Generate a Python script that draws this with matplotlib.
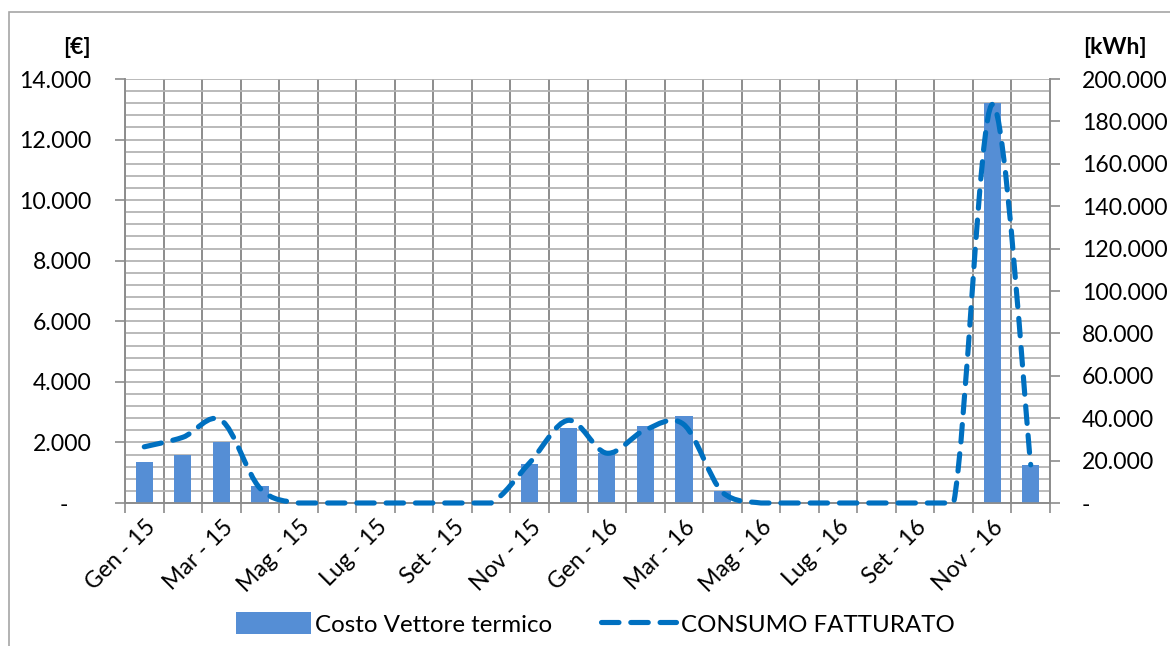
import numpy as np
import matplotlib
matplotlib.use("Agg")
import matplotlib.pyplot as plt
from matplotlib.path import Path
from matplotlib.patches import PathPatch, Patch, Rectangle
from matplotlib.lines import Line2D
from matplotlib.ticker import FuncFormatter, MultipleLocator
from matplotlib.transforms import ScaledTranslation

# monthly data, Jan 2015 - Dec 2016
months = ["Gen - 15", "Feb - 15", "Mar - 15", "Apr - 15", "Mag - 15", "Giu - 15",
          "Lug - 15", "Ago - 15", "Set - 15", "Ott - 15", "Nov - 15", "Dic - 15",
          "Gen - 16", "Feb - 16", "Mar - 16", "Apr - 16", "Mag - 16", "Giu - 16",
          "Lug - 16", "Ago - 16", "Set - 16", "Ott - 16", "Nov - 16", "Dic - 16"]
costo_eur = [1370, 1600, 2000, 560, 0, 0, 0, 0, 0, 0, 1300, 2480,
             1650, 2550, 2880, 380, 0, 0, 0, 0, 0, 0, 13200, 1250]
consumo_kwh = [26500, 31000, 39000, 7000, 0, 0, 0, 0, 0, 0, 19000, 39000,
               23500, 34500, 37000, 5000, 0, 0, 0, 0, 0, 0, 188000, 18000]

BAR_COLOR = "#558ed5"
LINE_COLOR = "#0070c0"
GRID_H = "#b4b4b4"
GRID_V = "#8c8c8c"
FONT = ["Lato", "DejaVu Sans"]
FS = 16.6

plt.rcParams["font.family"] = FONT


def it_thousands(v, pos=None):
    if abs(v) < 1e-9:
        return "-"
    return f"{v:,.0f}".replace(",", ".")


def left_fmt(v, pos=None):
    s = it_thousands(v)
    return "-    " if s == "-" else s


def excel_smooth_path(ax, xs, ys):
    # Bezier control points computed in screen space, with the
    # control offset capped at half the segment length and kept
    # above the bottom of the axis
    pts = ax.transData.transform(np.column_stack([xs, ys]))
    floor = ax.transAxes.transform((0, 0))[1]
    n = len(pts)
    verts = [pts[0]]
    codes = [Path.MOVETO]
    for i in range(n - 1):
        p0 = pts[i - 1] if i > 0 else pts[i]
        p1 = pts[i]
        p2 = pts[i + 1]
        p3 = pts[i + 2] if i + 2 < n else pts[i + 1]
        d12 = np.hypot(*(p2 - p1))
        d02 = np.hypot(*(p2 - p0))
        d13 = np.hypot(*(p3 - p1))
        f0 = 1 / 6
        f1 = 1 / 6
        if d02 / 6 >= d12 / 2 and d02 > 0:
            f0 = d12 / d02 / 2
        if d13 / 6 >= d12 / 2 and d13 > 0:
            f1 = d12 / d13 / 2
        c1 = p1 + (p2 - p0) * f0
        c2 = p2 - (p3 - p1) * f1
        c1[1] = max(c1[1], floor)
        c2[1] = max(c2[1], floor)
        verts += [c1, c2, p2]
        codes += [Path.CURVE4] * 3
    data_verts = ax.transData.inverted().transform(np.array(verts))
    return Path(data_verts, codes)


def main():
    fig = plt.figure(figsize=(11.7, 6.46), dpi=100)
    W, H = 1170, 646
    x0, x1, yb, yt = 125, 1050, 503, 79
    ax = fig.add_axes([x0 / W, 1 - yb / H, (x1 - x0) / W, (yb - yt) / H])
    ax2 = ax.twinx()

    x = np.arange(len(months))
    n = len(months)

    # outer chart frame
    fig.patches.append(Rectangle((9 / W, -0.1), 1.2, 1 - 12 / H + 0.1,
                                 transform=fig.transFigure, fill=False,
                                 edgecolor="#a6a6a6", linewidth=1.2))

    # bars on the left axis
    ax.bar(x, costo_eur, width=0.45, color=BAR_COLOR, zorder=3)
    ax.set_xlim(-0.5, n - 0.5)
    ax.set_ylim(0, 14000)
    ax.yaxis.set_major_locator(MultipleLocator(2000))
    ax.yaxis.set_minor_locator(MultipleLocator(400))
    ax.yaxis.set_major_formatter(FuncFormatter(left_fmt))
    ax.grid(True, axis="y", which="both", color=GRID_H, linewidth=1.3, zorder=0)
    ax.set_axisbelow(True)

    # category boundaries carry the ticks and vertical grid, centres carry labels
    ax.set_xticks(np.arange(-0.5, n, 1.0))
    ax.set_xticklabels([])
    ax.set_xticks(x[::2], minor=True)
    ax.set_xticklabels(months[::2], minor=True, rotation=45, ha="right",
                       va="center", rotation_mode="anchor", fontsize=FS)
    ax.grid(True, axis="x", which="major", color=GRID_V, linewidth=1.4, zorder=0)
    ax.tick_params(axis="x", which="major", length=7, color=GRID_V, width=1.2)
    ax.tick_params(axis="x", which="minor", length=0, pad=15)
    for lbl in ax.get_xticklabels(minor=True):
        lbl.set_transform(lbl.get_transform() +
                          ScaledTranslation(8 / 100, 0, fig.dpi_scale_trans))

    ax.tick_params(axis="y", which="major", length=7, color=GRID_V, width=1.2,
                   labelsize=FS, pad=17)
    ax.tick_params(axis="y", which="minor", length=0)

    # kWh on the right axis
    ax2.set_ylim(0, 200000)
    ax2.yaxis.set_major_locator(MultipleLocator(20000))
    ax2.yaxis.set_major_formatter(FuncFormatter(it_thousands))
    ax2.tick_params(axis="y", length=7, color=GRID_V, width=1.2,
                    labelsize=FS, pad=16)

    for a in (ax, ax2):
        a.spines["top"].set_visible(False)
        for s in ("left", "right", "bottom"):
            a.spines[s].set_color(GRID_V)
            a.spines[s].set_linewidth(1.2)

    dash = (0, (3.4, 2.3))
    path = excel_smooth_path(ax2, x, consumo_kwh)
    curve = PathPatch(path, fill=False, edgecolor=LINE_COLOR, linewidth=3.7,
                      linestyle=dash, capstyle="round", zorder=4)
    ax2.add_patch(curve)
    clip = Rectangle((0, -0.01), 1, 1.03, transform=ax2.transAxes)
    curve.set_clip_path(clip)

    # axis unit labels
    fig.text(91 / W, 1 - 47 / H, "[€]", ha="right", va="center",
             fontsize=FS, fontweight="bold")
    fig.text(1083 / W, 1 - 47 / H, "[kWh]", ha="left", va="center",
             fontsize=FS, fontweight="bold")

    handles = [Patch(facecolor=BAR_COLOR, edgecolor="none"),
               Line2D([], [], color=LINE_COLOR, linewidth=3.7, linestyle=dash,
                      dash_capstyle="round")]
    fig.legend(handles, ["Costo Vettore termico", "CONSUMO FATTURATO"],
               loc="center", bbox_to_anchor=(595 / W, 1 - 624 / H), ncol=2,
               frameon=False, fontsize=17.4, handlelength=3.1, handleheight=1.0,
               handletextpad=0.2, columnspacing=2.0)

    fig.savefig("out.png", dpi=100)


if __name__ == "__main__":
    main()
